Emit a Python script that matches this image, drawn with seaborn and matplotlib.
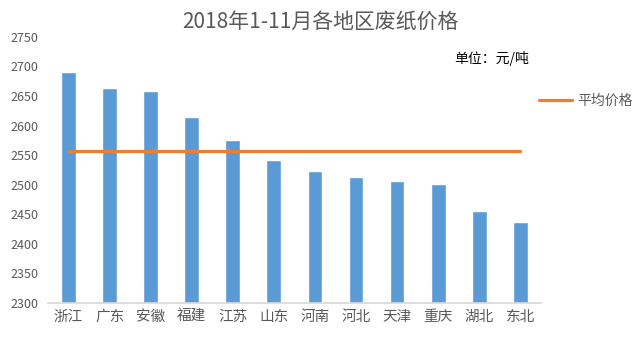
import numpy as np
import pandas as pd
import matplotlib
matplotlib.use("Agg")
import matplotlib.pyplot as plt
import seaborn as sns

regions = ["浙江", "广东", "安徽", "福建", "江苏", "山东", "河南", "河北", "天津", "重庆", "湖北", "东北"]
prices = [2690, 2664, 2659, 2615, 2576, 2542, 2523, 2513, 2506, 2501, 2456, 2437]
avg_price = [2557] * 12
yticks = list(range(2300, 2751, 50))

sns.set_theme(style="white")
plt.rcParams['font.family'] = ['Noto Sans CJK SC', 'DejaVu Sans']

fig = plt.figure(figsize=(6.4, 3.42), dpi=100)
ax = fig.add_axes([0.075, 0.114, 0.77, 0.778])

df = pd.DataFrame({"地区": regions, "价格": prices})
sns.barplot(data=df, x="地区", y="价格", color="#5B9BD5", width=0.36, saturation=1, ax=ax)
sns.lineplot(x=np.arange(len(regions)), y=avg_price, color="#ED7D31", linewidth=2.3, ax=ax, label="平均价格")

ax.set_ylim(2300, 2750)
ax.set_yticks(yticks)
ax.set_yticklabels([str(t) for t in yticks], fontsize=9, color="#595959")
ax.set_xlim(-0.5, len(regions) - 0.5)
ax.set_xlabel("")
ax.set_ylabel("")
ax.tick_params(axis="x", labelsize=10.5, colors="#595959", length=0, pad=5)
ax.tick_params(axis="y", length=0, pad=7)
for s in ["top", "right", "left"]:
    ax.spines[s].set_visible(False)
ax.spines["bottom"].set_color("#D9D9D9")
ax.grid(False)

leg = ax.legend(loc="center left", bbox_to_anchor=(0.97, 0.76), frameon=False, fontsize=10,
                handlelength=2.4, handletextpad=0.4, labelcolor="#595959")

fig.text(0.5, 0.935, "2018年1-11月各地区废纸价格", ha="center", va="center", fontsize=15, color="#595959")
fig.text(0.71, 0.83, "单位：元/吨", ha="left", va="center", fontsize=10, color="black")

fig.savefig("out.png", dpi=100)
